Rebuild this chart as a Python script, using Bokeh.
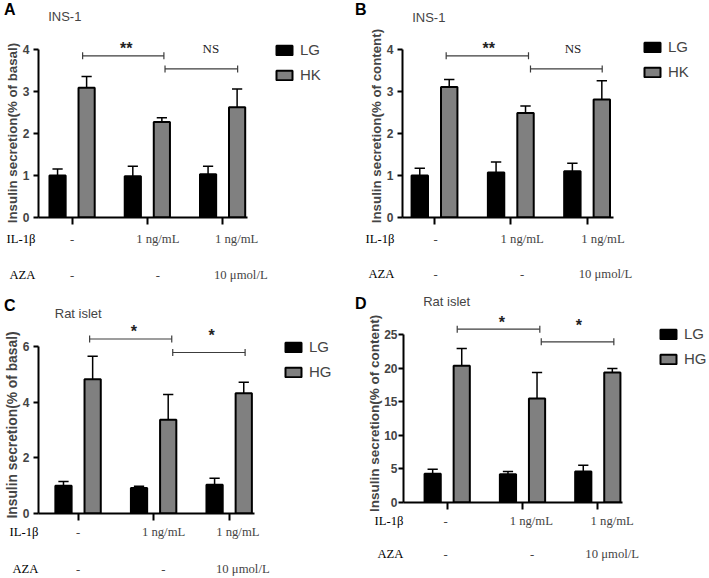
from bokeh.plotting import figure
from bokeh.models import (FixedTicker, Label, Legend, LegendItem, LinearAxis, Range1d, Title)
from bokeh.layouts import column, row
from bokeh.embed import file_html
from bokeh.resources import INLINE

S = 1.0
SANS = "Liberation Sans"
SERIF = "Liberation Serif"

# ---------------- data ----------------
groups = [1, 2, 3]
row_names = ["IL-1β", "AZA"]
il1b_labels = ["-", "1 ng/mL", "1 ng/mL"]
aza_labels = ["-", "-", "10 μmol/L"]

# Panel A  (INS-1, % of basal)
a_lg = [1.00, 0.98, 1.03]
a_lg_sem = [0.15, 0.24, 0.19]
a_hk = [3.08, 2.27, 2.62]
a_hk_sem = [0.27, 0.10, 0.43]
a_ticks = [0, 1, 2, 3, 4]
a_br_x0 = [1.14, 2.235]
a_br_x1 = [2.22, 3.20]
a_br_y = [3.84, 3.53]
a_sig = ["**", "NS"]

# Panel B  (INS-1, % of content)
b_lg = [1.00, 1.07, 1.10]
b_lg_sem = [0.17, 0.25, 0.19]
b_hk = [3.10, 2.48, 2.80]
b_hk_sem = [0.18, 0.17, 0.45]
b_ticks = [0, 1, 2, 3, 4]
b_br_x0 = [1.153, 2.258]
b_br_x1 = [2.232, 3.198]
b_br_y = [3.84, 3.53]
b_sig = ["**", "NS"]

# Panel C  (Rat islet, % of basal)
c_lg = [1.00, 0.92, 1.03]
c_lg_sem = [0.15, 0.06, 0.24]
c_hg = [4.82, 3.37, 4.32]
c_hg_sem = [0.83, 0.91, 0.40]
c_ticks = [0, 2, 4, 6]
c_br_x0 = [1.153, 2.253]
c_br_x1 = [2.24, 3.211]
c_br_y = [6.27, 5.785]
c_sig = ["*", "*"]

# Panel D  (Rat islet, % of content)
d_lg = [4.27, 4.22, 4.62]
d_lg_sem = [0.70, 0.40, 0.95]
d_hg = [20.38, 15.50, 19.38]
d_hg_sem = [2.58, 3.88, 0.60]
d_ticks = [0, 5, 10, 15, 20, 25]
d_br_x0 = [1.133, 2.249]
d_br_x1 = [2.23, 3.213]
d_br_y = [25.84, 23.95]
d_sig = ["*", "*"]

# ---------------- layout geometry (pixels, panel-relative) ----------------
# ylab = (bottom end of label, font px, title standoff, spacer px)
geo_a = dict(W=350, H=285, left=36.7, bottom=216.7, ypu=42.1, g1=70.7, xpu=75.5, xend=246.7,
             top=30, right=340, bb=9, leg=(272.7, 42.7), letter=(1.7, 9), title=(46.7, 16.2),
             ylab=(222.7, 13.3, 0, 0), tick_st=4, rows_y=(238, 274), head_x=5,
             row1_x=(70.7, 156.7, 235.8), row2_x=(70.7, 156.7, 240.0),
             marks=((125, 43.3), (210, 48.3)))
geo_b = dict(W=358, H=285, left=51.7, bottom=216.7, ypu=42.1, g1=84, xpu=76.3, xend=262.7,
             top=26, right=350, bb=9, leg=(291.7, 40.0), letter=(3.0, 9), title=(61.7, 16.7),
             ylab=(222.7, 13.3, 0, 13), tick_st=4, rows_y=(238, 273), head_x=15,
             row1_x=(85, 171.7, 252.5), row2_x=(85, 171.7, 255.0),
             marks=((138.3, 43), (222.5, 48)))
geo_c = dict(W=350, H=292, left=36.7, bottom=227.7, ypu=27.83, g1=76.7, xpu=75.8, xend=253.3,
             top=35, right=340, bb=9, leg=(281.7, 55.0), letter=(1.7, 20), title=(53.3, 27.5),
             ylab=(233.0, 13.8, 0, 0), tick_st=4, rows_y=(246, 283), head_x=11.7,
             row1_x=(76.7, 162.5, 237.0), row2_x=(76.7, 162.3, 242.0),
             marks=((132.7, 41.7), (210.7, 45)))
geo_d = dict(W=358, H=292, left=53.3, bottom=216.7, ypu=6.708, g1=96.7, xpu=75.3, xend=271.7,
             top=28, right=358, bb=10, leg=(308.3, 41.7), letter=(3.3, 18), title=(72.7, 15.5),
             ylab=(226.5, 13.5, 0, 17), tick_st=1, rows_y=(235, 268), head_x=25,
             row1_x=(95, 180.8, 261.7), row2_x=(95, 181.7, 261.7),
             marks=((151.3, 32.5), (228.3, 35.0)))


def fs(px):
    return f"{px * S:.1f}px"


def base_fig(w, h, xr, yr, fl, fr_b, top_b=0, bot_b=0, axes=False):
    kw = dict(width=w, height=h, x_range=xr, y_range=yr, output_backend="svg",
              toolbar_location=None, title=None, min_border_left=fl, min_border_right=fr_b,
              min_border_top=top_b, min_border_bottom=bot_b)
    if not axes:
        kw.update(x_axis_type=None, y_axis_type=None)
    f = figure(**kw)
    f.outline_line_color = None
    f.background_fill_color = "white"
    f.border_fill_color = "white"
    return f


def text_axis(ticks, labels, standoff, font, size, style="normal"):
    return LinearAxis(ticker=FixedTicker(ticks=ticks, minor_ticks=[]),
                      major_label_overrides=dict(zip(ticks, labels)),
                      axis_line_color=None, major_tick_line_color=None,
                      minor_tick_line_color=None, major_tick_out=0, major_tick_in=0,
                      minor_tick_out=0, minor_tick_in=0, major_label_standoff=standoff,
                      major_label_text_font=font, major_label_text_font_size=size,
                      major_label_text_font_style=style, major_label_text_color="black")


def make_panel(g, lg, lg_sem, hg, hg_sem, hg_name, ticks, bx0, bx1, by, sig,
               ylabel, letter, title):
    W = round(g["W"] * S)
    H = round(g["H"] * S)
    fl = round(g["left"] * S)
    fr = round(g["right"] * S)
    t = round(g["top"] * S)
    fb = round(g["bottom"] * S)
    bb = g["bb"]
    x0 = 1 + (fl / S - g["g1"]) / g["xpu"]
    x1 = 1 + (fr / S - g["g1"]) / g["xpu"]
    y1 = (fb - t) / S / g["ypu"]

    def dx(px):
        return x0 + (px - fl / S) / g["xpu"]

    def dy(py):
        return (fb / S - py) / g["ypu"]

    # ---- header: panel letter (left of the axis) and cell type ----
    hdr = base_fig(W, t, Range1d(x0, x1), Range1d(t / S, 0), fl, W - fr)
    letter_right = g["letter"][0] * S + 0.722 * 16 * S
    hdr.add_layout(text_axis([g["letter"][1]], [letter], max(0, fl - round(letter_right) - 1),
                             SANS, fs(16), "bold"), "left")
    hdr.add_layout(Label(x=dx(g["title"][0]), y=g["title"][1], text=title,
                         text_align="left", text_baseline="middle", text_font=SANS,
                         text_font_size=fs(13)))

    # ---- chart ----
    p = base_fig(W, fb + bb - t, Range1d(x0, x1), Range1d(0, y1), fl, W - fr, 0, bb, axes=True)
    p.xgrid.visible = False
    p.ygrid.visible = False

    off = 0.193
    bw = 0.215
    cap = 0.068
    xs_lg = [x - off for x in groups]
    xs_hg = [x + off for x in groups]

    for xs, v, e in ((xs_lg, lg, lg_sem), (xs_hg, hg, hg_sem)):
        tops = [a + b for a, b in zip(v, e)]
        p.segment(x0=xs, y0=v, x1=xs, y1=tops, line_color="black", line_width=1.5 * S)
        p.segment(x0=[x - cap for x in xs], y0=tops, x1=[x + cap for x in xs], y1=tops,
                  line_color="black", line_width=1.5 * S)

    r_lg = p.vbar(x=xs_lg, top=lg, bottom=0, width=bw, fill_color="black",
                  line_color="black", line_width=2 * S)
    r_hg = p.vbar(x=xs_hg, top=hg, bottom=0, width=bw, fill_color="#808080",
                  line_color="black", line_width=2 * S)

    h = 3.5 / g["ypu"]
    bcol = "#3c3c3c"
    p.segment(x0=bx0, y0=by, x1=bx1, y1=by, line_color=bcol, line_width=1.2)
    p.segment(x0=bx0 + bx1, y0=[y - h for y in by] * 2, x1=bx0 + bx1,
              y1=[y + h for y in by] * 2, line_color=bcol, line_width=1.2)

    for (mx, my), txt in zip(g["marks"], sig):
        if "*" in txt:
            p.add_layout(Label(x=dx(mx), y=dy(my + 4.5), text=txt, text_align="center",
                               text_baseline="middle", text_font=SANS, text_font_style="bold",
                               text_font_size=fs(16), text_color="#222222"))
        else:
            p.add_layout(Label(x=dx(mx), y=dy(my), text=txt, text_align="center",
                               text_baseline="middle", text_font=SERIF,
                               text_font_size=fs(13), text_color="#222222"))

    item_h = 16
    spacing = max(0, round(24 * S) - item_h)
    leg_h = 2 * item_h + spacing
    lx = round(g["leg"][0] * S) - fl
    ly = fb - (round(g["leg"][1] * S) + leg_h)
    leg = Legend(items=[LegendItem(label="LG", renderers=[r_lg]),
                        LegendItem(label=hg_name, renderers=[r_hg])],
                 location=(lx, ly), orientation="vertical",
                 glyph_width=round(20 * S), glyph_height=round(12.3 * S),
                 label_standoff=round(6 * S), spacing=spacing, padding=0, margin=0,
                 border_line_color=None, background_fill_alpha=0,
                 label_text_font=SANS, label_text_font_size=fs(15),
                 label_height=12, label_text_baseline="middle")
    p.add_layout(leg)

    ya = p.yaxis[0]
    ya.ticker = FixedTicker(ticks=ticks, minor_ticks=[])
    ya.bounds = (0, ticks[-1])
    ya.axis_line_width = 2 * S
    ya.major_tick_line_width = 2 * S
    ya.major_tick_out = 5
    ya.major_tick_in = 0
    ya.minor_tick_line_color = None
    ya.major_label_text_font = SANS
    ya.major_label_text_font_style = "bold"
    ya.major_label_text_font_size = fs(12)
    ya.major_label_standoff = g["tick_st"]

    lab_bottom, lab_fs, lab_st, spacer = g["ylab"]
    p.add_layout(Title(text=ylabel, align="left", offset=fb - lab_bottom * S,
                       standoff=lab_st, text_font=SANS, text_font_style="bold",
                       text_font_size=fs(lab_fs)), "left")
    if spacer > 0:
        p.add_layout(LinearAxis(ticker=FixedTicker(ticks=[], minor_ticks=[]),
                                major_tick_out=spacer, major_tick_in=0, minor_tick_out=0,
                                axis_line_color=None, major_tick_line_color=None,
                                minor_tick_line_color=None, major_label_standoff=0,
                                major_label_text_font_size="0px"), "left")

    xa = p.xaxis[0]
    xa.ticker = FixedTicker(ticks=groups, minor_ticks=[])
    xa.bounds = (x0, dx(g["xend"]))
    xa.major_label_overrides = {1: "", 2: "", 3: ""}
    xa.major_label_text_font_size = "0px"
    xa.major_label_text_color = None
    xa.major_label_standoff = 0
    xa.axis_line_width = 2 * S
    xa.major_tick_line_width = 2 * S
    xa.major_tick_out = 7
    xa.major_tick_in = 0
    xa.minor_tick_line_color = None

    # ---- treatment rows ----
    top_rows = (fb + bb) / S
    rows = base_fig(W, H - fb - bb, Range1d(x0, x1), Range1d(H / S, top_rows), fl, W - fr)
    head_right = g["head_x"] * S + 2.277 * 12.7 * S
    rows.add_layout(text_axis(list(g["rows_y"]), row_names, max(0, fl - round(head_right)),
                              SERIF, fs(12.7)), "left")
    for ry, labels, xs in ((g["rows_y"][0], il1b_labels, g["row1_x"]),
                           (g["rows_y"][1], aza_labels, g["row2_x"])):
        for txt, px in zip(labels, xs):
            rows.add_layout(Label(x=dx(px), y=ry, text=txt, text_align="center",
                                  text_baseline="middle", text_font=SERIF,
                                  text_font_size=fs(12.7)))
    return column(hdr, p, rows, spacing=0)


pA = make_panel(geo_a, a_lg, a_lg_sem, a_hk, a_hk_sem, "HK", a_ticks, a_br_x0, a_br_x1,
                a_br_y, a_sig, "Insulin secretion(% of basal)", "A", "INS-1")
pB = make_panel(geo_b, b_lg, b_lg_sem, b_hk, b_hk_sem, "HK", b_ticks, b_br_x0, b_br_x1,
                b_br_y, b_sig, "Insulin secretion(% of content)", "B", "INS-1")
pC = make_panel(geo_c, c_lg, c_lg_sem, c_hg, c_hg_sem, "HG", c_ticks, c_br_x0, c_br_x1,
                c_br_y, c_sig, "Insulin secretion(% of basal)", "C", "Rat islet")
pD = make_panel(geo_d, d_lg, d_lg_sem, d_hg, d_hg_sem, "HG", d_ticks, d_br_x0, d_br_x1,
                d_br_y, d_sig, "Insulin secretion(% of content)", "D", "Rat islet")

layout = column(row(pA, pB, spacing=0), row(pC, pD, spacing=0), spacing=0)
open("out.html", "w").write(file_html(layout, INLINE))
